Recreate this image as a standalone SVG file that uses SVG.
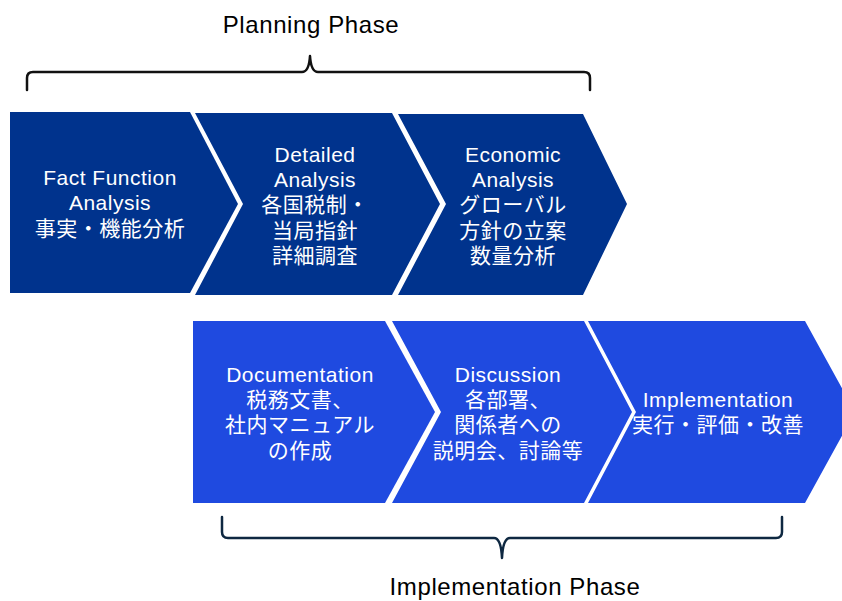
<svg xmlns="http://www.w3.org/2000/svg" width="842" height="601" viewBox="0 0 842 601">
<style>
.dark{fill:#00338D}
.light{fill:#1F4AE0}
.t{fill:#FFFFFF;font-family:"Liberation Sans","Noto Sans CJK JP",sans-serif;font-size:21px;letter-spacing:0.5px;text-anchor:middle}
.ph{fill:#000000;font-family:"Liberation Sans","Noto Sans CJK JP",sans-serif;font-size:24px;letter-spacing:0.6px;text-anchor:middle}
.br{fill:none;stroke-width:2.5;stroke-linejoin:round;stroke-linecap:round}
</style>
<rect width="842" height="601" fill="#FFFFFF"/>
<g id="node-fact">
<polygon class="dark" points="10,112 190,112 238,204 190,293 10,293"/>
<text class="t" x="110" y="185">Fact Function</text>
<text class="t" x="110" y="210">Analysis</text>
<text class="t" x="110" y="236">事実・機能分析</text>
</g>
<g id="node-detailed">
<polygon class="dark" points="195,113 392,113 440,204 392,295 195,295 243,204"/>
<text class="t" x="315" y="162">Detailed</text>
<text class="t" x="315" y="187">Analysis</text>
<text class="t" x="315" y="212">各国税制・</text>
<text class="t" x="315" y="238">当局指針</text>
<text class="t" x="315" y="263">詳細調査</text>
</g>
<g id="node-economic">
<polygon class="dark" points="398,114 583,114 627,204 583,295 398,295 446,204"/>
<text class="t" x="513" y="162">Economic</text>
<text class="t" x="513" y="187">Analysis</text>
<text class="t" x="513" y="212">グローバル</text>
<text class="t" x="513" y="238">方針の立案</text>
<text class="t" x="513" y="263">数量分析</text>
</g>
<g id="node-documentation">
<polygon class="light" points="193,321 385,321 435,412 385,503 193,503"/>
<text class="t" x="300" y="382">Documentation</text>
<text class="t" x="300" y="407">税務文書、</text>
<text class="t" x="300" y="432">社内マニュアル</text>
<text class="t" x="300" y="458">の作成</text>
</g>
<g id="node-discussion">
<polygon class="light" points="392,321 584,321 632,412 584,503 392,503 441,412"/>
<text class="t" x="508" y="382">Discussion</text>
<text class="t" x="508" y="407">各部署、</text>
<text class="t" x="508" y="432">関係者への</text>
<text class="t" x="508" y="458">説明会、討論等</text>
</g>
<g id="node-implementation">
<polygon class="light" points="588,321 805,321 855,412 805,503 588,503 636,412"/>
<text class="t" x="718" y="407">Implementation</text>
<text class="t" x="718" y="432">実行・評価・改善</text>
</g>
<g id="connectors">
<path class="br" stroke="#111111" d="M27,90 L27,78 Q27,72 33,72 L302,72 Q309,72 310,56 Q311,72 318,72 L584,72 Q590,72 590,78 L590,90"/>
<path class="br" stroke="#0E2841" d="M222,517 L222,532 Q222,538 228,538 L494,538 Q501,538 502,558 Q503,538 510,538 L776,538 Q782,538 782,532 L782,517"/>
</g>
<g id="labels">
<text class="ph" x="311" y="33">Planning Phase</text>
<text class="ph" x="515" y="595">Implementation Phase</text>
</g>
</svg>
